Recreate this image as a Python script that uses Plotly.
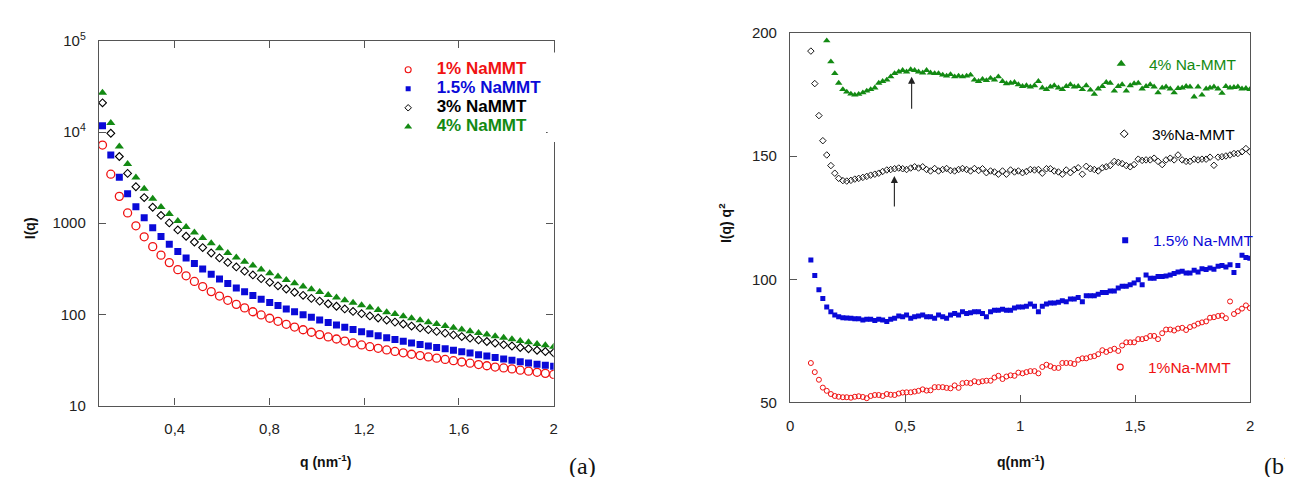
import plotly.graph_objects as go

# ---------------- data: panel (a)  I(q) vs q ----------------
q_a = [0.095, 0.130, 0.166, 0.201, 0.236, 0.271, 0.307, 0.342, 0.377, 0.413,
       0.448, 0.483, 0.518, 0.554, 0.589, 0.624, 0.660, 0.695, 0.730, 0.765,
       0.801, 0.836, 0.871, 0.906, 0.942, 0.977, 1.012, 1.048, 1.083, 1.118,
       1.153, 1.189, 1.224, 1.259, 1.295, 1.330, 1.365, 1.400, 1.436, 1.471,
       1.506, 1.542, 1.577, 1.612, 1.647, 1.683, 1.718, 1.753, 1.789, 1.824,
       1.859, 1.894, 1.930, 1.965, 2.000]

I_1 = [7190, 3450, 1970, 1297, 937, 710, 554, 447, 370, 310,
       265, 230, 202, 178, 159, 143, 129, 118, 107, 98.8,
       90.9, 84.1, 78.0, 72.7, 68.0, 63.8, 60.1, 56.7, 53.8, 51.1,
       48.7, 46.3, 44.3, 42.5, 40.8, 39.3, 38.0, 36.6, 35.4, 34.2,
       33.2, 32.1, 31.1, 30.1, 29.2, 28.2, 27.4, 26.5, 25.9, 25.3,
       24.5, 23.9, 23.2, 22.6, 22.0]
I_15 = [11740, 5610, 3200, 2110, 1515, 1147, 891, 716, 587, 489,
        417, 361, 315, 276, 244, 218, 195, 177, 161, 147,
        135, 125, 115, 107, 99.5, 93.0, 87.0, 81.5, 76.8, 72.4,
        68.5, 64.8, 61.4, 58.4, 55.5, 53.1, 50.8, 48.7, 46.8, 45.1,
        43.5, 42.0, 40.5, 39.1, 37.7, 36.2, 35.0, 33.7, 32.5, 31.5,
        30.3, 29.4, 28.4, 27.8, 27.1]
I_3 = [20900, 9680, 5390, 3520, 2513, 1910, 1498, 1218, 1009, 844,
       720, 622, 541, 472, 417, 372, 332, 298, 271, 247,
       225, 206, 190, 175, 162, 150, 140, 131, 123, 115,
       108, 102, 96.4, 91.5, 86.7, 82.4, 78.5, 74.6, 71.2, 68.1,
       65.2, 62.4, 59.7, 57.2, 54.9, 52.6, 50.5, 48.5, 46.6, 45.1,
       43.4, 42.1, 40.5, 39.2, 38.0]
I_4 = [27000, 12560, 6930, 4460, 3168, 2384, 1861, 1510, 1259, 1061,
       910, 789, 689, 602, 531, 473, 421, 379, 343, 311,
       283, 260, 239, 220, 203, 189, 176, 163, 153, 143,
       134, 126, 119, 112, 106, 101, 95.6, 90.8, 86.3, 82.2,
       78.5, 74.9, 71.5, 68.5, 65.6, 62.8, 60.3, 57.8, 55.4, 53.5,
       51.3, 49.5, 47.5, 45.9, 44.3]

# ---------------- data: panel (b)  I(q) q^2 vs q ----------------
q_b = [0.090, 0.107, 0.125, 0.142, 0.159, 0.177, 0.194, 0.211, 0.229, 0.246,
       0.264, 0.281, 0.298, 0.316, 0.333, 0.350, 0.368, 0.385, 0.402, 0.420,
       0.437, 0.454, 0.472, 0.489, 0.506, 0.524, 0.541, 0.558, 0.576, 0.593,
       0.610, 0.628, 0.645, 0.663, 0.680, 0.697, 0.715, 0.732, 0.749, 0.767,
       0.784, 0.801, 0.819, 0.836, 0.853, 0.871, 0.888, 0.905, 0.923, 0.940,
       0.958, 0.975, 0.992, 1.010, 1.027, 1.044, 1.062, 1.079, 1.096, 1.114,
       1.131, 1.148, 1.166, 1.183, 1.200, 1.218, 1.235, 1.252, 1.270, 1.287,
       1.305, 1.322, 1.339, 1.357, 1.374, 1.391, 1.409, 1.426, 1.443, 1.461,
       1.478, 1.495, 1.513, 1.530, 1.547, 1.565, 1.582, 1.599, 1.617, 1.634,
       1.652, 1.669, 1.686, 1.704, 1.721, 1.738, 1.756, 1.773, 1.790, 1.808,
       1.825, 1.842, 1.860, 1.877, 1.894, 1.912, 1.929, 1.946, 1.964, 1.981,
       1.998]

Iq2_1 = [66.0, 62.3, 59.2, 56.0, 54.7, 53.4, 52.6, 52.3, 52.1, 52.1,
         51.9, 52.3, 52.5, 52.2, 51.7, 52.6, 53.0, 53.0, 52.6, 53.4,
         53.1, 53.0, 53.6, 54.0, 54.1, 54.1, 54.4, 54.7, 55.3, 54.8,
         54.9, 56.2, 56.2, 56.2, 55.9, 55.7, 56.9, 55.9, 57.8, 58.0,
         57.8, 58.6, 58.2, 58.6, 58.8, 58.8, 60.1, 60.8, 59.5, 60.5,
         61.0, 60.8, 62.1, 61.8, 62.3, 62.7, 62.7, 61.8, 64.4, 65.3,
         64.7, 64.0, 64.0, 66.0, 66.0, 66.0, 65.6, 67.3, 67.9, 67.9,
         68.5, 68.8, 69.6, 71.2, 70.5, 71.2, 71.8, 70.9, 73.1, 74.4,
         74.4, 74.4, 75.7, 75.7, 76.1, 77.0, 77.0, 75.7, 78.1, 79.6,
         79.6, 79.2, 80.0, 80.3, 79.4, 80.6, 81.2, 82.0, 82.5, 82.9,
         84.4, 84.6, 85.1, 85.3, 84.2, 91.0, 85.9, 87.0, 88.1, 89.4,
         88.3]
Iq2_15 = [107.8, 101.5, 95.8, 92.2, 88.7, 86.8, 85.5, 84.8, 84.4, 84.3,
          84.2, 84.0, 84.0, 83.5, 83.8, 83.8, 83.3, 83.8, 83.5, 82.9,
          83.8, 84.2, 85.1, 84.8, 85.5, 84.2, 84.8, 85.1, 85.5, 84.8,
          84.8, 84.2, 85.5, 84.8, 84.2, 85.5, 86.1, 85.5, 86.8, 86.1,
          86.4, 86.8, 86.8, 86.1, 84.8, 86.8, 87.4, 87.4, 87.8, 87.4,
          87.4, 88.3, 88.7, 88.7, 89.1, 90.0, 89.1, 86.8, 89.1, 90.0,
          90.4, 90.4, 90.7, 91.3, 90.9, 92.0, 92.0, 92.6, 90.9, 93.3,
          93.3, 93.3, 93.9, 94.6, 94.6, 95.2, 95.2, 96.5, 97.2, 97.2,
          97.8, 98.5, 99.8, 97.8, 101.7, 100.4, 100.4, 101.1, 101.1, 101.3,
          101.7, 102.4, 103.0, 103.3, 102.6, 102.6, 103.7, 103.0, 104.3, 104.0,
          104.6, 104.1, 105.3, 105.6, 105.0, 105.9, 102.8, 105.6, 109.8, 108.9,
          108.5]
Iq2_3 = [192.7, 179.5, 166.5, 156.3, 150.5, 146.2, 143.1, 141.0, 140.1, 139.9,
         140.2, 140.7, 141.0, 141.4, 141.8, 142.3, 142.7, 143.1, 143.8, 144.4,
         144.6, 144.9, 145.2, 144.9, 144.6, 145.2, 145.7, 145.2, 145.7, 144.6,
         144.0, 145.0, 144.0, 144.6, 145.0, 144.2, 144.0, 144.6, 145.0, 144.6,
         144.0, 145.0, 144.2, 144.9, 143.3, 144.0, 143.6, 142.7, 144.0, 142.7,
         144.4, 143.6, 144.0, 143.3, 143.8, 144.6, 144.4, 144.6, 143.1, 144.9,
         144.9, 144.0, 143.6, 142.7, 144.4, 143.3, 144.6, 145.3, 142.7, 145.9,
         144.9, 144.6, 144.0, 145.3, 145.7, 146.2, 147.9, 147.5, 147.0, 146.2,
         145.7, 146.6, 148.8, 148.3, 148.5, 148.5, 149.2, 147.9, 146.6, 148.5,
         149.2, 148.5, 150.5, 148.5, 147.9, 147.9, 148.8, 148.5, 148.8, 148.8,
         149.6, 146.3, 149.6, 149.8, 150.1, 150.5, 151.1, 151.1, 151.8, 153.1,
         151.8]
Iq2_4 = [240.0, 222.0, 210.0, 206.0, 196.9, 188.4, 183.6, 179.7, 177.1, 176.1,
         175.3, 174.9, 175.2, 175.8, 176.5, 177.1, 177.8, 179.7, 180.4, 181.0,
         182.3, 183.6, 184.3, 184.9, 184.3, 185.2, 184.9, 184.3, 183.9, 184.9,
         183.9, 183.6, 183.6, 183.0, 182.6, 183.2, 182.3, 182.6, 182.3, 182.6,
         183.0, 181.0, 180.4, 181.3, 180.8, 181.7, 181.0, 182.3, 180.4, 179.5,
         179.7, 180.0, 179.1, 178.4, 178.7, 178.2, 178.7, 180.4, 177.8, 177.1,
         178.2, 178.7, 177.8, 177.1, 178.4, 179.1, 178.2, 178.4, 177.1, 178.7,
         176.9, 175.2, 177.4, 178.4, 180.0, 179.7, 176.5, 178.4, 179.1, 176.5,
         178.7, 179.5, 179.7, 177.4, 178.4, 179.1, 178.2, 175.8, 177.8, 178.2,
         177.4, 175.8, 177.6, 177.8, 178.4, 178.2, 174.1, 178.2, 174.9, 177.4,
         177.8, 178.2, 177.4, 175.6, 178.4, 177.8, 178.0, 178.2, 177.4, 177.6,
         177.1]

labels_a = ["1% NaMMT", "1.5% NaMMT", "3% NaMMT", "4% NaMMT"]
labels_b = ["1%Na-MMT", "1.5% Na-MMT", "3%Na-MMT", "4% Na-MMT"]

xt_a = [0.4, 0.8, 1.2, 1.6, 2]
xt_a_txt = ["0,4", "0,8", "1,2", "1,6", "2"]
yt_a = [10, 100, 1000, 10000, 100000]
yt_a_txt = ["10", "100", "1000", "10<sup>4</sup>", "10<sup>5</sup>"]
xt_b = [0, 0.5, 1, 1.5, 2]
xt_b_txt = ["0", "0,5", "1", "1,5", "2"]
yt_b = [50, 100, 150, 200]

# arrows marking the correlation peaks: (q, tail, head)
arrow_4 = (0.528, 168.7, 182.3)
arrow_3 = (0.453, 129.0, 142.0)

# ---------------- styling ----------------
W, H = 1293, 477
RED, BLUE, BLACK, GREEN = "#f01212", "#0a0ad8", "#000000", "#138a13"
AX = "#555555"
FONT = "Liberation Sans, Arial, sans-serif"

def px_x(p):
    return p / W

def px_y(p):
    return 1 - p / H

styles_a = [
    dict(symbol="circle-open", size=8, color=RED, line=dict(width=1.3, color=RED)),
    dict(symbol="square", size=7, color=BLUE),
    dict(symbol="diamond-open", size=6, color=BLACK, line=dict(width=1.1, color=BLACK)),
    dict(symbol="triangle-up", size=8, color=GREEN),
]
styles_b = [
    dict(symbol="circle-open", size=5, color=RED, line=dict(width=1.0, color=RED)),
    dict(symbol="square", size=5, color=BLUE),
    dict(symbol="diamond-open", size=5, color=BLACK, line=dict(width=0.9, color=BLACK)),
    dict(symbol="triangle-up", size=6.5, color=GREEN),
]
leg_styles_a = [
    dict(symbol="circle-open", size=6, color=RED, line=dict(width=1.1, color=RED)),
    dict(symbol="square", size=5, color=BLUE),
    dict(symbol="diamond-open", size=5, color=BLACK, line=dict(width=1, color=BLACK)),
    dict(symbol="triangle-up", size=7, color=GREEN),
]
leg_styles_b = [
    dict(symbol="circle-open", size=6, color=RED, line=dict(width=1.1, color=RED)),
    dict(symbol="square", size=6, color=BLUE),
    dict(symbol="diamond-open", size=6, color=BLACK, line=dict(width=1, color=BLACK)),
    dict(symbol="triangle-up", size=8, color=GREEN),
]
colors = [RED, BLUE, BLACK, GREEN]

fig = go.Figure()

series_a = [I_1, I_15, I_3, I_4]
series_b = [Iq2_1, Iq2_15, Iq2_3, Iq2_4]

for ys, st in zip(series_a, styles_a):
    fig.add_trace(go.Scatter(x=q_a, y=ys, mode="markers", marker=st,
                             xaxis="x", yaxis="y", showlegend=False))
for ys, st in zip(series_b, styles_b):
    fig.add_trace(go.Scatter(x=q_b, y=ys, mode="markers", marker=st,
                             xaxis="x2", yaxis="y2", showlegend=False))

# panel (a): one legend; a 12 px legend font gives 19 px rows, text drawn larger
for i in range(4):
    fig.add_trace(go.Scatter(
        x=[None], y=[None], mode="markers", marker=leg_styles_a[i],
        name=(f'<b><span style="font-size:17px;color:{colors[i]}">'
              f'\u2002{labels_a[i]}</span></b>'),
        legend="legend", xaxis="x", yaxis="y"))

# panel (b): one small legend beside each curve
leg_pos_b = [(1095, 363), (1100, 231), (1099, 120), (1096, 47)]
layout_legends = {}
for i in range(4):
    lname = f"legend{i+2}"
    fig.add_trace(go.Scatter(
        x=[None], y=[None], mode="markers", marker=leg_styles_b[i],
        name=f'<span style="color:{colors[i]}">\u2002{labels_b[i]}</span>',
        legend=lname, xaxis="x2", yaxis="y2"))
    lx, ly = leg_pos_b[i]
    layout_legends[lname] = dict(
        x=px_x(lx), y=px_y(ly), xanchor="left", yanchor="middle",
        bgcolor="rgba(0,0,0,0)", borderwidth=0,
        font=dict(family=FONT, size=15.5, color=colors[i]))

layout_legends["legend"] = dict(
    x=px_x(378.5), y=px_y(37.8), xanchor="left", yanchor="top",
    bgcolor="rgba(0,0,0,0)", borderwidth=0, traceorder="normal",
    font=dict(family=FONT, size=12, color=BLACK))

tickfont = dict(family=FONT, size=15, color="#222222")
common = dict(showgrid=False, zeroline=False, showline=True, linecolor=AX,
              linewidth=1.4, ticks="inside", ticklen=7, tickwidth=1.2,
              tickcolor=AX, tickfont=tickfont)

fig.update_layout(
    width=W, height=H, margin=dict(l=0, r=0, t=0, b=0),
    paper_bgcolor="white", plot_bgcolor="white",
    xaxis=dict(domain=[px_x(87.5), px_x(545)], range=[0.08, 2.0], anchor="y",
               tickvals=xt_a, ticktext=xt_a_txt, mirror="ticks",
               ticklabelstandoff=9, **common),
    yaxis=dict(domain=[px_y(402.7), px_y(22.7)], type="log", range=[1, 5],
               anchor="x", tickvals=yt_a, ticktext=yt_a_txt, mirror="ticks",
               ticklabelstandoff=9, **common),
    xaxis2=dict(domain=[px_x(783), px_x(1246)], range=[0, 2], anchor="y2",
                tickvals=xt_b, ticktext=xt_b_txt, mirror=True,
                ticklabelstandoff=9, **common),
    yaxis2=dict(domain=[px_y(399.3), px_y(14.7)], range=[50, 200], anchor="x2",
                tickvals=yt_b, mirror=True, ticklabelstandoff=9, **common),
    **layout_legends,
)

# white patch where the legend box of panel (a) interrupts the right frame
fig.add_shape(type="rect", xref="paper", yref="paper",
              x0=px_x(539), x1=px_x(552), y0=px_y(128), y1=px_y(35),
              fillcolor="white", line=dict(width=0), layer="above")

bold = dict(family=FONT, size=14, color="#111111")
ann = [
    dict(text="<b>I(q)</b>", x=px_x(18), y=px_y(218), textangle=-90, font=bold),
    dict(text="<b>q (nm<sup>-1</sup>)</b>", x=px_x(316), y=px_y(460), font=bold),
    dict(text="<b>I(q) q<sup>2</sup></b>", x=px_x(717), y=px_y(213), textangle=-90, font=bold),
    dict(text="<b>q(nm<sup>-1</sup>)</b>", x=px_x(1015), y=px_y(460), font=bold),
    dict(text="(a)", x=px_x(574), y=px_y(466),
         font=dict(family="Liberation Serif, Times New Roman, serif", size=24, color="#111")),
    dict(text="(b)", x=px_x(1274), y=px_y(466),
         font=dict(family="Liberation Serif, Times New Roman, serif", size=24, color="#111")),
]
for a in ann:
    fig.add_annotation(xref="paper", yref="paper", showarrow=False,
                       xanchor="center", yanchor="middle", **a)

for (qa, tail, head) in (arrow_4, arrow_3):
    fig.add_annotation(xref="x2", yref="y2", axref="x2", ayref="y2",
                       x=qa, y=head, ax=qa, ay=tail, text="",
                       showarrow=True, arrowhead=2, arrowsize=1.3,
                       arrowwidth=1.1, arrowcolor="#222222")

fig.write_html("out.html")
